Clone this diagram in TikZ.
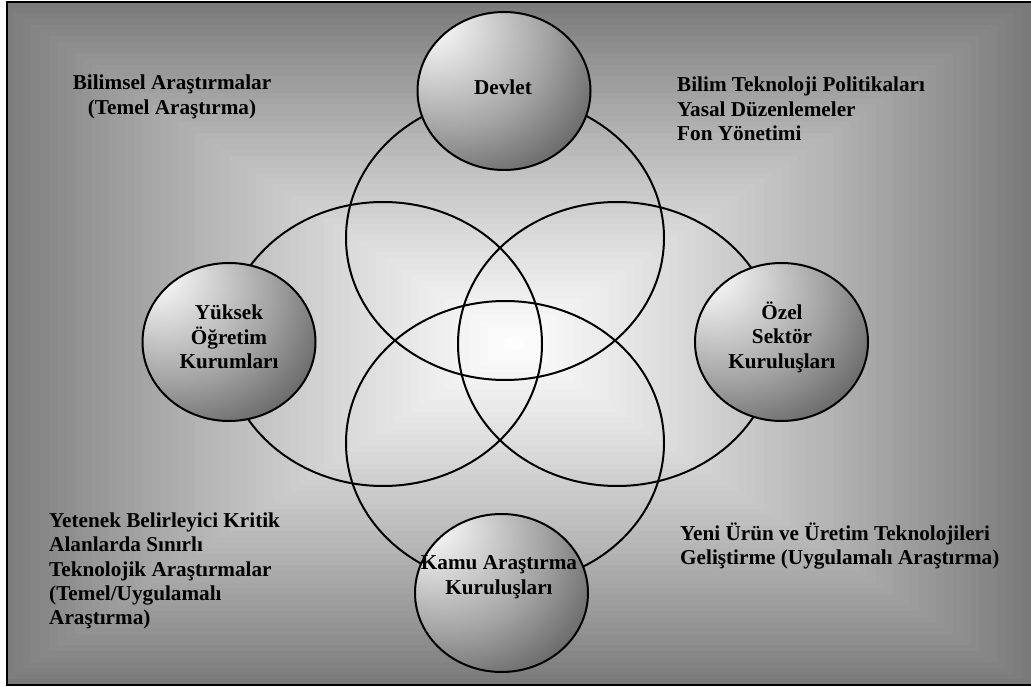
\documentclass[tikz,border=0pt]{standalone}
\usepackage{fontspec}
\setmainfont{Liberation Serif}
\usetikzlibrary{shapes, positioning, calc}
\pgfdeclareradialshading{sphereshade}{\pgfpoint{-24bp}{24bp}}{color(0bp)=(white); color(5bp)=(black!4); color(28bp)=(black!36); color(45bp)=(black!64); color(62bp)=(black!76); color(80bp)=(black!80)}
\tikzset{sphere/.style={draw, ellipse, line width=2pt, minimum width=173pt, minimum height=158pt, inner sep=0pt, shading=sphereshade},
         ring/.style={draw, ellipse, line width=2pt, minimum width=318pt, minimum height=284pt, inner sep=0pt},
         lbl/.style={font=\fontsize{21.2}{24.4}\selectfont\bfseries, inner sep=0pt}}

\begin{document}
\begin{tikzpicture}[x=1pt, y=-1pt]
        \useasboundingbox (0,0) rectangle (1031,687);
        % background, lighter towards the middle
        \begin{scope}
            \clip (7,2) rectangle (1031,685);
            \foreach \i in {60,...,1}{
                \pgfmathsetmacro\t{\i/60}
                \pgfmathsetmacro\g{52*\t*(0.8+0.2*\t)}
                \pgfmathsetmacro\w{517*\t}
                \pgfmathsetmacro\h{341.5*\t}
                \fill[black!\g] (514-\w,343.5-\h) rectangle (514+\w,343.5+\h);
            }
        \end{scope}
        \draw[line width=2pt] (1031,2) -- (7,2) -- (7,685) -- (1031,685);

        % the four overlapping rings
        \node[ring] (ringT) at (505,238) {};
        \node[ring] (ringB) at (505,443) {};
        \node[ring] (ringL) at (383,344) {};
        \node[ring] (ringR) at (617,344) {};

        % the four actors
        \node[sphere] (devlet) at (504,91) {};
        \node[sphere] (yuksek) at (229,342) {};
        \node[sphere] (ozel) at (781.5,342) {};
        \node[sphere] (kamu) at (501.5,593) {};

        \node[lbl] (devletTxt) at (503,87) {Devlet};
        \node[lbl, align=center] (yuksekTxt) at (229,337) {Yüksek\\Öğretim\\Kurumları};
        \node[lbl, align=center] (ozelTxt) at (782,337) {Özel\\Sektör\\Kuruluşları};
        \node[lbl, align=center] (kamuTxt) at (499,577) {Kamu Araştırma\\Kuruluşları};

        % research types
        \node[lbl, align=center] (bilimsel) at (172,97) {Bilimsel Araştırmalar\\(Temel Araştırma)};
        \node[lbl, align=left, anchor=west] (politika) at (677,109) {Bilim Teknoloji Politikaları\\Yasal Düzenlemeler\\Fon Yönetimi};
        \node[lbl, align=left, anchor=west] (yetenek) at (49,571) {Yetenek Belirleyici Kritik\\Alanlarda Sınırlı\\Teknolojik Araştırmalar\\(Temel/Uygulamalı\\Araştırma)};
        \node[lbl, align=left, anchor=west] (yeniurun) at (680,546) {Yeni Ürün ve Üretim Teknolojileri\\Geliştirme (Uygulamalı Araştırma)};
    \end{tikzpicture}
\end{document}
